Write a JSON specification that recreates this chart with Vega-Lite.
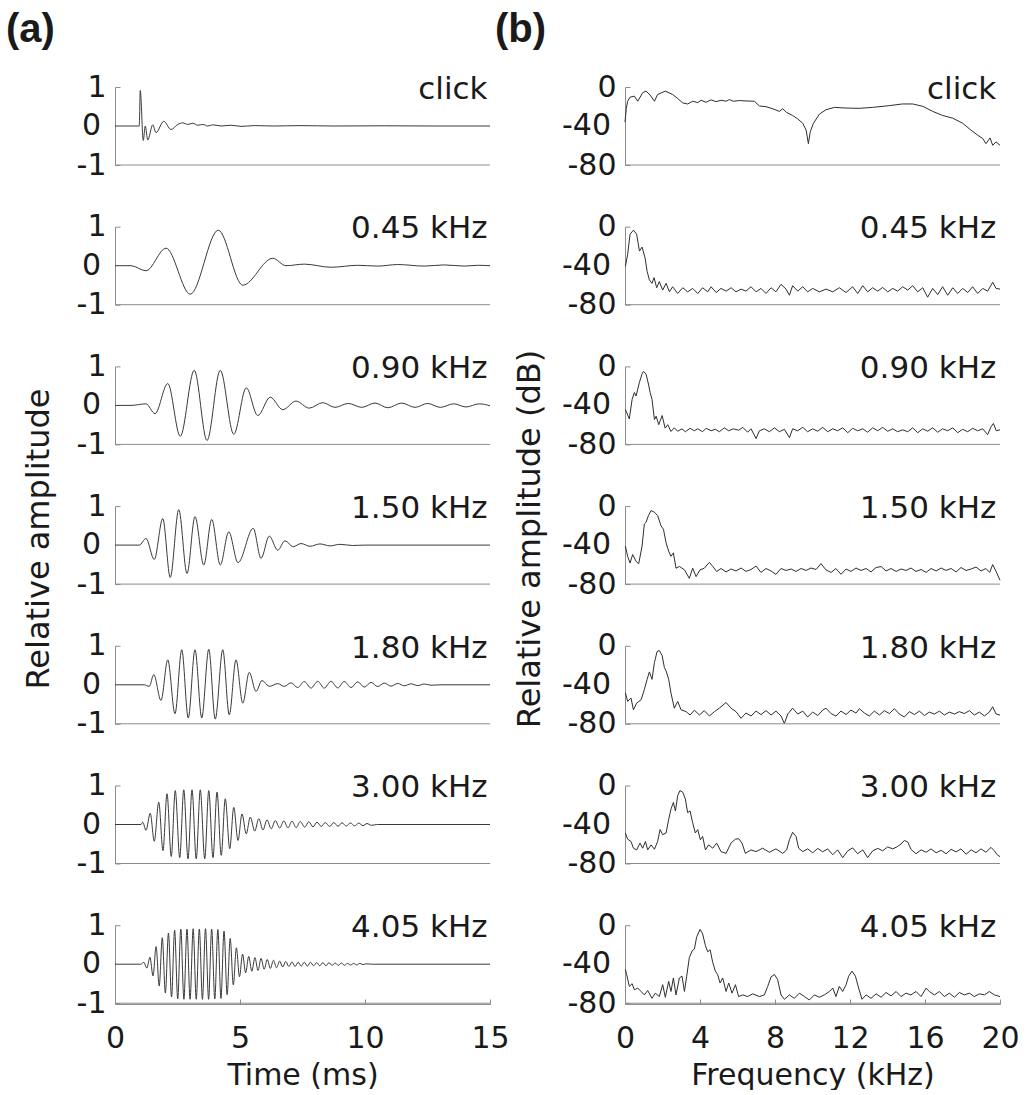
{
  "$schema": "https://vega.github.io/schema/vega-lite/v6.json",
  "background": "white",
  "padding": {"left": 5, "top": 10, "right": 0, "bottom": 0},
  "spacing": -16,
  "config": {
    "font": "DejaVu Sans",
    "view": {"stroke": null},
    "axis": {
      "grid": false,
      "domainColor": "#8c8c8c",
      "tickColor": "#8c8c8c",
      "tickSize": -5,
      "labelFont": "DejaVu Sans",
      "labelFontSize": 30,
      "labelColor": "#1a1a1a",
      "labelPadding": 14,
      "labelFlush": false,
      "labelOverlap": false,
      "titleFont": "DejaVu Sans",
      "titleFontSize": 30,
      "titleFontWeight": "normal",
      "titleColor": "#1a1a1a",
      "titlePadding": 7
    },
    "axisX": {"labelPadding": 24},
    "header": {
      "titleFont": "DejaVu Sans",
      "titleFontSize": 32,
      "titleFontWeight": "normal",
      "titleColor": "#1a1a1a",
      "labels": false
    },
    "title": {"font": "Liberation Sans", "fontSize": 40, "fontWeight": "bold", "color": "#1a1a1a", "anchor": "start", "offset": 22}
  },
  "datasets": {
    "wave": [
      {"s":"click","t":0,"a":0},{"s":"click","t":0.97,"a":0},{"s":"click","t":1.01,"a":0.91},{"s":"click","t":1.13,"a":-0.37},{"s":"click","t":1.21,"a":0.0},{"s":"click","t":1.31,"a":-0.36},{"s":"click","t":1.51,"a":0.03},{"s":"click","t":1.64,"a":-0.17},{"s":"click","t":1.95,"a":0.12},{"s":"click","t":2.24,"a":-0.09},{"s":"click","t":2.51,"a":0.04},{"s":"click","t":2.71,"a":0.08},{"s":"click","t":2.91,"a":0.04},{"s":"click","t":3.11,"a":0.07},{"s":"click","t":3.31,"a":0.02},{"s":"click","t":3.51,"a":0.04},{"s":"click","t":3.71,"a":0.0},{"s":"click","t":3.91,"a":0.03},{"s":"click","t":4.24,"a":0.0},{"s":"click","t":4.64,"a":0.02},{"s":"click","t":5.04,"a":-0.01},{"s":"click","t":5.57,"a":0.01},{"s":"click","t":6.37,"a":0},{"s":"click","t":7.44,"a":0.01},{"s":"click","t":8.77,"a":0},{"s":"click","t":10.77,"a":0.005},{"s":"click","t":12.77,"a":0},{"s":"click","t":15,"a":0},

      {"s":"0.45 kHz","t":0,"a":0},{"s":"0.45 kHz","t":0.64,"a":0},{"s":"0.45 kHz","t":1.24,"a":-0.13},{"s":"0.45 kHz","t":2.04,"a":0.45},{"s":"0.45 kHz","t":3.01,"a":-0.73},{"s":"0.45 kHz","t":4.13,"a":0.91},{"s":"0.45 kHz","t":5.11,"a":-0.5},{"s":"0.45 kHz","t":6.31,"a":0.19},{"s":"0.45 kHz","t":6.84,"a":0},{"s":"0.45 kHz","t":7.57,"a":0.04},{"s":"0.45 kHz","t":8.64,"a":-0.04},{"s":"0.45 kHz","t":9.71,"a":0.01},{"s":"0.45 kHz","t":10.51,"a":-0.01},{"s":"0.45 kHz","t":11.31,"a":0.03},{"s":"0.45 kHz","t":12.37,"a":-0.01},{"s":"0.45 kHz","t":13.17,"a":0.02},{"s":"0.45 kHz","t":13.97,"a":-0.01},{"s":"0.45 kHz","t":14.51,"a":0.01},{"s":"0.45 kHz","t":15,"a":0},

      {"s":"0.90 kHz","t":0,"a":0},{"s":"0.90 kHz","t":0.64,"a":0},{"s":"0.90 kHz","t":1.24,"a":0.04},{"s":"0.90 kHz","t":1.6,"a":-0.21},{"s":"0.90 kHz","t":2.11,"a":0.56},{"s":"0.90 kHz","t":2.61,"a":-0.79},{"s":"0.90 kHz","t":3.17,"a":0.9},{"s":"0.90 kHz","t":3.68,"a":-0.9},{"s":"0.90 kHz","t":4.21,"a":0.9},{"s":"0.90 kHz","t":4.75,"a":-0.74},{"s":"0.90 kHz","t":5.25,"a":0.45},{"s":"0.90 kHz","t":5.71,"a":-0.26},{"s":"0.90 kHz","t":6.21,"a":0.21},{"s":"0.90 kHz","t":6.71,"a":-0.11},{"s":"0.90 kHz","t":7.24,"a":0.11},{"s":"0.90 kHz","t":7.77,"a":-0.07},{"s":"0.90 kHz","t":8.31,"a":0.07},{"s":"0.90 kHz","t":8.8,"a":-0.05},{"s":"0.90 kHz","t":9.33,"a":0.05},{"s":"0.90 kHz","t":9.87,"a":-0.05},{"s":"0.90 kHz","t":10.4,"a":0.06},{"s":"0.90 kHz","t":10.91,"a":-0.06},{"s":"0.90 kHz","t":11.47,"a":0.06},{"s":"0.90 kHz","t":12.0,"a":-0.05},{"s":"0.90 kHz","t":12.51,"a":0.05},{"s":"0.90 kHz","t":13.01,"a":-0.05},{"s":"0.90 kHz","t":13.55,"a":0.04},{"s":"0.90 kHz","t":14.04,"a":-0.04},{"s":"0.90 kHz","t":14.57,"a":0.04},{"s":"0.90 kHz","t":15,"a":-0.01},

      {"s":"1.50 kHz","t":0,"a":0},{"s":"1.50 kHz","t":0.97,"a":0},{"s":"1.50 kHz","t":1.24,"a":0.17},{"s":"1.50 kHz","t":1.57,"a":-0.37},{"s":"1.50 kHz","t":1.91,"a":0.68},{"s":"1.50 kHz","t":2.21,"a":-0.83},{"s":"1.50 kHz","t":2.55,"a":0.91},{"s":"1.50 kHz","t":2.88,"a":-0.73},{"s":"1.50 kHz","t":3.2,"a":0.73},{"s":"1.50 kHz","t":3.55,"a":-0.51},{"s":"1.50 kHz","t":3.87,"a":0.66},{"s":"1.50 kHz","t":4.21,"a":-0.51},{"s":"1.50 kHz","t":4.55,"a":0.34},{"s":"1.50 kHz","t":4.92,"a":-0.45},{"s":"1.50 kHz","t":5.53,"a":0.43},{"s":"1.50 kHz","t":5.84,"a":-0.34},{"s":"1.50 kHz","t":6.17,"a":0.23},{"s":"1.50 kHz","t":6.51,"a":-0.13},{"s":"1.50 kHz","t":6.8,"a":0.11},{"s":"1.50 kHz","t":7.13,"a":-0.04},{"s":"1.50 kHz","t":7.44,"a":0.04},{"s":"1.50 kHz","t":7.8,"a":-0.03},{"s":"1.50 kHz","t":8.2,"a":0.03},{"s":"1.50 kHz","t":8.6,"a":-0.02},{"s":"1.50 kHz","t":9.0,"a":0.02},{"s":"1.50 kHz","t":9.5,"a":-0.01},{"s":"1.50 kHz","t":10,"a":0},{"s":"1.50 kHz","t":15,"a":0},

      {"s":"1.80 kHz","t":0,"a":0},{"s":"1.80 kHz","t":1.17,"a":0},{"s":"1.80 kHz","t":1.37,"a":-0.04},{"s":"1.80 kHz","t":1.55,"a":0.26},{"s":"1.80 kHz","t":1.84,"a":-0.4},{"s":"1.80 kHz","t":2.11,"a":0.64},{"s":"1.80 kHz","t":2.4,"a":-0.74},{"s":"1.80 kHz","t":2.67,"a":0.9},{"s":"1.80 kHz","t":2.93,"a":-0.85},{"s":"1.80 kHz","t":3.2,"a":0.9},{"s":"1.80 kHz","t":3.47,"a":-0.85},{"s":"1.80 kHz","t":3.75,"a":0.91},{"s":"1.80 kHz","t":4.01,"a":-0.88},{"s":"1.80 kHz","t":4.31,"a":0.9},{"s":"1.80 kHz","t":4.57,"a":-0.77},{"s":"1.80 kHz","t":4.84,"a":0.64},{"s":"1.80 kHz","t":5.11,"a":-0.47},{"s":"1.80 kHz","t":5.37,"a":0.32},{"s":"1.80 kHz","t":5.64,"a":-0.17},{"s":"1.80 kHz","t":5.88,"a":0.11},{"s":"1.80 kHz","t":6.17,"a":-0.04},{"s":"1.80 kHz","t":6.51,"a":0.03},{"s":"1.80 kHz","t":6.77,"a":-0.04},{"s":"1.80 kHz","t":7.04,"a":0.05},{"s":"1.80 kHz","t":7.31,"a":-0.07},{"s":"1.80 kHz","t":7.57,"a":0.085},{"s":"1.80 kHz","t":7.84,"a":-0.085},{"s":"1.80 kHz","t":8.11,"a":0.09},{"s":"1.80 kHz","t":8.37,"a":-0.085},{"s":"1.80 kHz","t":8.64,"a":0.09},{"s":"1.80 kHz","t":8.91,"a":-0.08},{"s":"1.80 kHz","t":9.17,"a":0.085},{"s":"1.80 kHz","t":9.44,"a":-0.07},{"s":"1.80 kHz","t":9.71,"a":0.075},{"s":"1.80 kHz","t":9.97,"a":-0.06},{"s":"1.80 kHz","t":10.24,"a":0.06},{"s":"1.80 kHz","t":10.51,"a":-0.045},{"s":"1.80 kHz","t":10.77,"a":0.045},{"s":"1.80 kHz","t":11.04,"a":-0.035},{"s":"1.80 kHz","t":11.31,"a":0.035},{"s":"1.80 kHz","t":11.57,"a":-0.025},{"s":"1.80 kHz","t":11.84,"a":0.025},{"s":"1.80 kHz","t":12.11,"a":-0.02},{"s":"1.80 kHz","t":12.37,"a":0.02},{"s":"1.80 kHz","t":12.64,"a":-0.01},{"s":"1.80 kHz","t":13.04,"a":0},{"s":"1.80 kHz","t":15,"a":0},

      {"s":"3.00 kHz","t":0,"a":0},{"s":"3.00 kHz","t":1.04,"a":0},{"s":"3.00 kHz","t":1.11,"a":0.06},{"s":"3.00 kHz","t":1.24,"a":-0.15},{"s":"3.00 kHz","t":1.41,"a":0.29},{"s":"3.00 kHz","t":1.57,"a":-0.43},{"s":"3.00 kHz","t":1.75,"a":0.57},{"s":"3.00 kHz","t":1.92,"a":-0.67},{"s":"3.00 kHz","t":2.08,"a":0.79},{"s":"3.00 kHz","t":2.25,"a":-0.82},{"s":"3.00 kHz","t":2.41,"a":0.87},{"s":"3.00 kHz","t":2.59,"a":-0.85},{"s":"3.00 kHz","t":2.75,"a":0.89},{"s":"3.00 kHz","t":2.92,"a":-0.88},{"s":"3.00 kHz","t":3.08,"a":0.89},{"s":"3.00 kHz","t":3.25,"a":-0.88},{"s":"3.00 kHz","t":3.41,"a":0.89},{"s":"3.00 kHz","t":3.59,"a":-0.88},{"s":"3.00 kHz","t":3.75,"a":0.87},{"s":"3.00 kHz","t":3.92,"a":-0.85},{"s":"3.00 kHz","t":4.08,"a":0.83},{"s":"3.00 kHz","t":4.25,"a":-0.79},{"s":"3.00 kHz","t":4.41,"a":0.66},{"s":"3.00 kHz","t":4.59,"a":-0.62},{"s":"3.00 kHz","t":4.75,"a":0.44},{"s":"3.00 kHz","t":4.92,"a":-0.41},{"s":"3.00 kHz","t":5.08,"a":0.27},{"s":"3.00 kHz","t":5.25,"a":-0.24},{"s":"3.00 kHz","t":5.41,"a":0.19},{"s":"3.00 kHz","t":5.59,"a":-0.17},{"s":"3.00 kHz","t":5.75,"a":0.15},{"s":"3.00 kHz","t":5.92,"a":-0.14},{"s":"3.00 kHz","t":6.08,"a":0.12},{"s":"3.00 kHz","t":6.25,"a":-0.11},{"s":"3.00 kHz","t":6.41,"a":0.1},{"s":"3.00 kHz","t":6.59,"a":-0.09},{"s":"3.00 kHz","t":6.75,"a":0.09},{"s":"3.00 kHz","t":6.92,"a":-0.085},{"s":"3.00 kHz","t":7.08,"a":0.085},{"s":"3.00 kHz","t":7.25,"a":-0.08},{"s":"3.00 kHz","t":7.41,"a":0.077},{"s":"3.00 kHz","t":7.59,"a":-0.07},{"s":"3.00 kHz","t":7.75,"a":0.07},{"s":"3.00 kHz","t":7.92,"a":-0.06},{"s":"3.00 kHz","t":8.08,"a":0.06},{"s":"3.00 kHz","t":8.25,"a":-0.05},{"s":"3.00 kHz","t":8.41,"a":0.05},{"s":"3.00 kHz","t":8.59,"a":-0.05},{"s":"3.00 kHz","t":8.75,"a":0.05},{"s":"3.00 kHz","t":8.92,"a":-0.045},{"s":"3.00 kHz","t":9.08,"a":0.045},{"s":"3.00 kHz","t":9.25,"a":-0.04},{"s":"3.00 kHz","t":9.41,"a":0.04},{"s":"3.00 kHz","t":9.59,"a":-0.035},{"s":"3.00 kHz","t":9.75,"a":0.035},{"s":"3.00 kHz","t":9.92,"a":-0.03},{"s":"3.00 kHz","t":10.08,"a":0.025},{"s":"3.00 kHz","t":10.25,"a":-0.02},{"s":"3.00 kHz","t":10.5,"a":0},{"s":"3.00 kHz","t":15,"a":0},

      {"s":"4.05 kHz","t":0,"a":0},{"s":"4.05 kHz","t":1.03,"a":0},{"s":"4.05 kHz","t":1.15,"a":0.05},{"s":"4.05 kHz","t":1.274,"a":-0.1},{"s":"4.05 kHz","t":1.397,"a":0.18},{"s":"4.05 kHz","t":1.521,"a":-0.3},{"s":"4.05 kHz","t":1.644,"a":0.45},{"s":"4.05 kHz","t":1.768,"a":-0.56},{"s":"4.05 kHz","t":1.891,"a":0.68},{"s":"4.05 kHz","t":2.015,"a":-0.74},{"s":"4.05 kHz","t":2.138,"a":0.8},{"s":"4.05 kHz","t":2.262,"a":-0.84},{"s":"4.05 kHz","t":2.385,"a":0.87},{"s":"4.05 kHz","t":2.509,"a":-0.89},{"s":"4.05 kHz","t":2.632,"a":0.9},{"s":"4.05 kHz","t":2.756,"a":-0.9},{"s":"4.05 kHz","t":2.879,"a":0.9},{"s":"4.05 kHz","t":3.003,"a":-0.9},{"s":"4.05 kHz","t":3.126,"a":0.91},{"s":"4.05 kHz","t":3.25,"a":-0.9},{"s":"4.05 kHz","t":3.373,"a":0.9},{"s":"4.05 kHz","t":3.497,"a":-0.9},{"s":"4.05 kHz","t":3.62,"a":0.91},{"s":"4.05 kHz","t":3.744,"a":-0.9},{"s":"4.05 kHz","t":3.867,"a":0.9},{"s":"4.05 kHz","t":3.991,"a":-0.89},{"s":"4.05 kHz","t":4.114,"a":0.89},{"s":"4.05 kHz","t":4.238,"a":-0.88},{"s":"4.05 kHz","t":4.361,"a":0.85},{"s":"4.05 kHz","t":4.485,"a":-0.78},{"s":"4.05 kHz","t":4.608,"a":0.66},{"s":"4.05 kHz","t":4.732,"a":-0.53},{"s":"4.05 kHz","t":4.855,"a":0.42},{"s":"4.05 kHz","t":4.979,"a":-0.32},{"s":"4.05 kHz","t":5.102,"a":0.26},{"s":"4.05 kHz","t":5.226,"a":-0.22},{"s":"4.05 kHz","t":5.349,"a":0.2},{"s":"4.05 kHz","t":5.473,"a":-0.18},{"s":"4.05 kHz","t":5.596,"a":0.17},{"s":"4.05 kHz","t":5.72,"a":-0.16},{"s":"4.05 kHz","t":5.843,"a":0.15},{"s":"4.05 kHz","t":5.967,"a":-0.13},{"s":"4.05 kHz","t":6.09,"a":0.12},{"s":"4.05 kHz","t":6.214,"a":-0.11},{"s":"4.05 kHz","t":6.337,"a":0.1},{"s":"4.05 kHz","t":6.461,"a":-0.09},{"s":"4.05 kHz","t":6.584,"a":0.08},{"s":"4.05 kHz","t":6.708,"a":-0.07},{"s":"4.05 kHz","t":6.831,"a":0.07},{"s":"4.05 kHz","t":6.955,"a":-0.06},{"s":"4.05 kHz","t":7.078,"a":0.06},{"s":"4.05 kHz","t":7.202,"a":-0.06},{"s":"4.05 kHz","t":7.325,"a":0.05},{"s":"4.05 kHz","t":7.449,"a":-0.05},{"s":"4.05 kHz","t":7.572,"a":0.05},{"s":"4.05 kHz","t":7.696,"a":-0.05},{"s":"4.05 kHz","t":7.819,"a":0.05},{"s":"4.05 kHz","t":7.943,"a":-0.04},{"s":"4.05 kHz","t":8.066,"a":0.04},{"s":"4.05 kHz","t":8.19,"a":-0.04},{"s":"4.05 kHz","t":8.313,"a":0.04},{"s":"4.05 kHz","t":8.437,"a":-0.04},{"s":"4.05 kHz","t":8.56,"a":0.04},{"s":"4.05 kHz","t":8.684,"a":-0.03},{"s":"4.05 kHz","t":8.807,"a":0.03},{"s":"4.05 kHz","t":8.931,"a":-0.03},{"s":"4.05 kHz","t":9.054,"a":0.03},{"s":"4.05 kHz","t":9.178,"a":-0.03},{"s":"4.05 kHz","t":9.301,"a":0.02},{"s":"4.05 kHz","t":9.425,"a":-0.02},{"s":"4.05 kHz","t":9.548,"a":0.02},{"s":"4.05 kHz","t":9.672,"a":-0.02},{"s":"4.05 kHz","t":9.795,"a":0.02},{"s":"4.05 kHz","t":9.919,"a":-0.01},{"s":"4.05 kHz","t":10.042,"a":0.01},{"s":"4.05 kHz","t":10.3,"a":0},{"s":"4.05 kHz","t":15,"a":0}
    ],
    "spec": [
      {"s":"click","f":0,"d":-36},{"s":"click","f":0.07,"d":-22},{"s":"click","f":0.14,"d":-14.6},{"s":"click","f":0.27,"d":-10.4},{"s":"click","f":0.5,"d":-9.4},{"s":"click","f":0.68,"d":-14.6},{"s":"click","f":0.94,"d":-5.9},{"s":"click","f":1.12,"d":-4.2},{"s":"click","f":1.34,"d":-8.3},{"s":"click","f":1.57,"d":-14.6},{"s":"click","f":1.74,"d":-7.7},{"s":"click","f":2.15,"d":-4.2},{"s":"click","f":2.54,"d":-7.7},{"s":"click","f":2.81,"d":-11.8},{"s":"click","f":3.08,"d":-16.3},{"s":"click","f":3.34,"d":-17.4},{"s":"click","f":3.61,"d":-14.6},{"s":"click","f":3.88,"d":-16},{"s":"click","f":4.06,"d":-13.6},{"s":"click","f":4.32,"d":-15.7},{"s":"click","f":4.59,"d":-13.2},{"s":"click","f":4.86,"d":-15},{"s":"click","f":5.12,"d":-13.6},{"s":"click","f":5.39,"d":-14.6},{"s":"click","f":5.57,"d":-12.9},{"s":"click","f":5.78,"d":-14.6},{"s":"click","f":6.1,"d":-13.9},{"s":"click","f":6.45,"d":-14.3},{"s":"click","f":6.9,"d":-14.6},{"s":"click","f":7.17,"d":-19.5},{"s":"click","f":7.52,"d":-20.2},{"s":"click","f":7.88,"d":-22.3},{"s":"click","f":8.23,"d":-25},{"s":"click","f":8.41,"d":-22.3},{"s":"click","f":8.62,"d":-26.1},{"s":"click","f":8.94,"d":-29.2},{"s":"click","f":9.21,"d":-32.7},{"s":"click","f":9.48,"d":-37.2},{"s":"click","f":9.66,"d":-44.2},{"s":"click","f":9.78,"d":-58.1},{"s":"click","f":9.88,"d":-45.9},{"s":"click","f":10.05,"d":-37.2},{"s":"click","f":10.37,"d":-27.8},{"s":"click","f":10.72,"d":-23.3},{"s":"click","f":11.17,"d":-20.9},{"s":"click","f":11.79,"d":-21.6},{"s":"click","f":12.5,"d":-21.9},{"s":"click","f":13.21,"d":-20.9},{"s":"click","f":14.1,"d":-19.1},{"s":"click","f":14.8,"d":-17.4},{"s":"click","f":15.34,"d":-17.4},{"s":"click","f":15.88,"d":-19.8},{"s":"click","f":16.41,"d":-25},{"s":"click","f":16.94,"d":-29.2},{"s":"click","f":17.48,"d":-32},{"s":"click","f":18.01,"d":-37.2},{"s":"click","f":18.45,"d":-44.2},{"s":"click","f":18.81,"d":-49.4},{"s":"click","f":19.08,"d":-52.9},{"s":"click","f":19.25,"d":-58.1},{"s":"click","f":19.47,"d":-52.2},{"s":"click","f":19.61,"d":-59.8},{"s":"click","f":19.79,"d":-56.3},{"s":"click","f":20,"d":-59.8},

      {"s":"0.45 kHz","f":0.02,"d":-40.7},{"s":"0.45 kHz","f":0.14,"d":-28.5},{"s":"0.45 kHz","f":0.27,"d":-7.7},{"s":"0.45 kHz","f":0.45,"d":-3.5},{"s":"0.45 kHz","f":0.62,"d":-7.7},{"s":"0.45 kHz","f":0.77,"d":-25},{"s":"0.45 kHz","f":0.91,"d":-20.9},{"s":"0.45 kHz","f":1.07,"d":-32},{"s":"0.45 kHz","f":1.18,"d":-45.9},{"s":"0.45 kHz","f":1.3,"d":-54.6},{"s":"0.45 kHz","f":1.44,"d":-58.1},{"s":"0.45 kHz","f":1.55,"d":-52.2},{"s":"0.45 kHz","f":1.69,"d":-62.6},{"s":"0.45 kHz","f":1.83,"d":-56.3},{"s":"0.45 kHz","f":2.01,"d":-65},{"s":"0.45 kHz","f":2.19,"d":-58.1},{"s":"0.45 kHz","f":2.37,"d":-66.8},{"s":"0.45 kHz","f":2.54,"d":-61.6},{"s":"0.45 kHz","f":2.81,"d":-68.5},{"s":"0.45 kHz","f":3.08,"d":-62.6},{"s":"0.45 kHz","f":3.34,"d":-66.8},{"s":"0.45 kHz","f":3.61,"d":-63.3},{"s":"0.45 kHz","f":3.88,"d":-68.5},{"s":"0.45 kHz","f":4.14,"d":-62.6},{"s":"0.45 kHz","f":4.41,"d":-66.8},{"s":"0.45 kHz","f":4.59,"d":-61.6},{"s":"0.45 kHz","f":4.86,"d":-67.5},{"s":"0.45 kHz","f":5.12,"d":-63.3},{"s":"0.45 kHz","f":5.39,"d":-66.1},{"s":"0.45 kHz","f":5.66,"d":-62.6},{"s":"0.45 kHz","f":5.92,"d":-66.8},{"s":"0.45 kHz","f":6.19,"d":-64},{"s":"0.45 kHz","f":6.45,"d":-66.1},{"s":"0.45 kHz","f":6.72,"d":-61.6},{"s":"0.45 kHz","f":6.99,"d":-66.8},{"s":"0.45 kHz","f":7.25,"d":-63.3},{"s":"0.45 kHz","f":7.52,"d":-68.5},{"s":"0.45 kHz","f":7.79,"d":-62.6},{"s":"0.45 kHz","f":8.05,"d":-66.8},{"s":"0.45 kHz","f":8.32,"d":-59.1},{"s":"0.45 kHz","f":8.59,"d":-64},{"s":"0.45 kHz","f":8.77,"d":-70.3},{"s":"0.45 kHz","f":8.94,"d":-60.5},{"s":"0.45 kHz","f":9.21,"d":-66.1},{"s":"0.45 kHz","f":9.48,"d":-61.6},{"s":"0.45 kHz","f":9.74,"d":-66.8},{"s":"0.45 kHz","f":10.01,"d":-63.3},{"s":"0.45 kHz","f":10.37,"d":-66.8},{"s":"0.45 kHz","f":10.72,"d":-64},{"s":"0.45 kHz","f":11.08,"d":-66.8},{"s":"0.45 kHz","f":11.43,"d":-62.6},{"s":"0.45 kHz","f":11.79,"d":-67.5},{"s":"0.45 kHz","f":12.14,"d":-61.6},{"s":"0.45 kHz","f":12.41,"d":-68.5},{"s":"0.45 kHz","f":12.68,"d":-60.5},{"s":"0.45 kHz","f":12.94,"d":-66.8},{"s":"0.45 kHz","f":13.21,"d":-62.6},{"s":"0.45 kHz","f":13.48,"d":-66.1},{"s":"0.45 kHz","f":13.74,"d":-62.3},{"s":"0.45 kHz","f":14.01,"d":-66.8},{"s":"0.45 kHz","f":14.28,"d":-63.3},{"s":"0.45 kHz","f":14.54,"d":-66.1},{"s":"0.45 kHz","f":14.81,"d":-61.6},{"s":"0.45 kHz","f":15.08,"d":-65},{"s":"0.45 kHz","f":15.34,"d":-60.5},{"s":"0.45 kHz","f":15.61,"d":-66.8},{"s":"0.45 kHz","f":15.88,"d":-62.6},{"s":"0.45 kHz","f":16.14,"d":-72.3},{"s":"0.45 kHz","f":16.41,"d":-63.3},{"s":"0.45 kHz","f":16.68,"d":-69.6},{"s":"0.45 kHz","f":16.94,"d":-61.6},{"s":"0.45 kHz","f":17.21,"d":-70.3},{"s":"0.45 kHz","f":17.48,"d":-62.6},{"s":"0.45 kHz","f":17.74,"d":-68.5},{"s":"0.45 kHz","f":18.01,"d":-63.3},{"s":"0.45 kHz","f":18.28,"d":-67.5},{"s":"0.45 kHz","f":18.54,"d":-61.6},{"s":"0.45 kHz","f":18.81,"d":-68.5},{"s":"0.45 kHz","f":19.08,"d":-63.3},{"s":"0.45 kHz","f":19.34,"d":-66.1},{"s":"0.45 kHz","f":19.61,"d":-57},{"s":"0.45 kHz","f":19.79,"d":-63.3},{"s":"0.45 kHz","f":20,"d":-64},

      {"s":"0.90 kHz","f":0.02,"d":-44.2},{"s":"0.90 kHz","f":0.23,"d":-53.9},{"s":"0.90 kHz","f":0.38,"d":-33.7},{"s":"0.90 kHz","f":0.5,"d":-26.8},{"s":"0.90 kHz","f":0.59,"d":-30.3},{"s":"0.90 kHz","f":0.77,"d":-16.3},{"s":"0.90 kHz","f":0.91,"d":-7.7},{"s":"0.90 kHz","f":0.98,"d":-5.2},{"s":"0.90 kHz","f":1.12,"d":-7.7},{"s":"0.90 kHz","f":1.25,"d":-18.1},{"s":"0.90 kHz","f":1.34,"d":-26.8},{"s":"0.90 kHz","f":1.44,"d":-33.7},{"s":"0.90 kHz","f":1.57,"d":-54.6},{"s":"0.90 kHz","f":1.66,"d":-51.1},{"s":"0.90 kHz","f":1.8,"d":-59.8},{"s":"0.90 kHz","f":1.98,"d":-50.4},{"s":"0.90 kHz","f":2.14,"d":-63.3},{"s":"0.90 kHz","f":2.28,"d":-59.8},{"s":"0.90 kHz","f":2.45,"d":-66.8},{"s":"0.90 kHz","f":2.63,"d":-63},{"s":"0.90 kHz","f":2.81,"d":-66.5},{"s":"0.90 kHz","f":3.04,"d":-64},{"s":"0.90 kHz","f":3.22,"d":-67},{"s":"0.90 kHz","f":3.47,"d":-63.5},{"s":"0.90 kHz","f":3.7,"d":-66},{"s":"0.90 kHz","f":3.88,"d":-64},{"s":"0.90 kHz","f":4.14,"d":-67},{"s":"0.90 kHz","f":4.32,"d":-63.5},{"s":"0.90 kHz","f":4.59,"d":-66},{"s":"0.90 kHz","f":4.82,"d":-64.5},{"s":"0.90 kHz","f":5.03,"d":-67},{"s":"0.90 kHz","f":5.3,"d":-63},{"s":"0.90 kHz","f":5.53,"d":-66},{"s":"0.90 kHz","f":5.78,"d":-64},{"s":"0.90 kHz","f":6.06,"d":-65.5},{"s":"0.90 kHz","f":6.28,"d":-62.5},{"s":"0.90 kHz","f":6.54,"d":-67.5},{"s":"0.90 kHz","f":6.72,"d":-64},{"s":"0.90 kHz","f":6.99,"d":-74},{"s":"0.90 kHz","f":7.17,"d":-66},{"s":"0.90 kHz","f":7.43,"d":-64},{"s":"0.90 kHz","f":7.7,"d":-67},{"s":"0.90 kHz","f":7.97,"d":-63},{"s":"0.90 kHz","f":8.23,"d":-67},{"s":"0.90 kHz","f":8.5,"d":-64.5},{"s":"0.90 kHz","f":8.77,"d":-73},{"s":"0.90 kHz","f":8.94,"d":-64},{"s":"0.90 kHz","f":9.21,"d":-66},{"s":"0.90 kHz","f":9.48,"d":-62.5},{"s":"0.90 kHz","f":9.74,"d":-67},{"s":"0.90 kHz","f":10.01,"d":-64},{"s":"0.90 kHz","f":10.28,"d":-66.5},{"s":"0.90 kHz","f":10.54,"d":-62.5},{"s":"0.90 kHz","f":10.81,"d":-67},{"s":"0.90 kHz","f":11.08,"d":-64},{"s":"0.90 kHz","f":11.34,"d":-66},{"s":"0.90 kHz","f":11.61,"d":-63},{"s":"0.90 kHz","f":11.88,"d":-68},{"s":"0.90 kHz","f":12.14,"d":-63.5},{"s":"0.90 kHz","f":12.41,"d":-66},{"s":"0.90 kHz","f":12.68,"d":-64},{"s":"0.90 kHz","f":12.94,"d":-67.5},{"s":"0.90 kHz","f":13.21,"d":-63},{"s":"0.90 kHz","f":13.48,"d":-66},{"s":"0.90 kHz","f":13.74,"d":-62.5},{"s":"0.90 kHz","f":14.01,"d":-66.5},{"s":"0.90 kHz","f":14.28,"d":-64},{"s":"0.90 kHz","f":14.54,"d":-67},{"s":"0.90 kHz","f":14.81,"d":-65},{"s":"0.90 kHz","f":15.08,"d":-67},{"s":"0.90 kHz","f":15.34,"d":-63},{"s":"0.90 kHz","f":15.61,"d":-68},{"s":"0.90 kHz","f":15.88,"d":-64},{"s":"0.90 kHz","f":16.14,"d":-66.5},{"s":"0.90 kHz","f":16.41,"d":-63},{"s":"0.90 kHz","f":16.68,"d":-67.5},{"s":"0.90 kHz","f":16.94,"d":-64},{"s":"0.90 kHz","f":17.21,"d":-66},{"s":"0.90 kHz","f":17.48,"d":-63},{"s":"0.90 kHz","f":17.74,"d":-68},{"s":"0.90 kHz","f":18.01,"d":-64.5},{"s":"0.90 kHz","f":18.28,"d":-67},{"s":"0.90 kHz","f":18.54,"d":-63.5},{"s":"0.90 kHz","f":18.81,"d":-66},{"s":"0.90 kHz","f":19.08,"d":-64},{"s":"0.90 kHz","f":19.34,"d":-70},{"s":"0.90 kHz","f":19.52,"d":-62},{"s":"0.90 kHz","f":19.65,"d":-58.5},{"s":"0.90 kHz","f":19.8,"d":-66},{"s":"0.90 kHz","f":20,"d":-65},

      {"s":"1.50 kHz","f":0.02,"d":-41},{"s":"1.50 kHz","f":0.14,"d":-51.5},{"s":"1.50 kHz","f":0.27,"d":-58.4},{"s":"1.50 kHz","f":0.41,"d":-49.7},{"s":"1.50 kHz","f":0.59,"d":-56.7},{"s":"1.50 kHz","f":0.73,"d":-59.1},{"s":"1.50 kHz","f":0.91,"d":-41},{"s":"1.50 kHz","f":1.03,"d":-18.4},{"s":"1.50 kHz","f":1.12,"d":-16.7},{"s":"1.50 kHz","f":1.25,"d":-9.7},{"s":"1.50 kHz","f":1.39,"d":-4.5},{"s":"1.50 kHz","f":1.57,"d":-6.3},{"s":"1.50 kHz","f":1.74,"d":-9.7},{"s":"1.50 kHz","f":1.92,"d":-20.2},{"s":"1.50 kHz","f":2.05,"d":-23.7},{"s":"1.50 kHz","f":2.19,"d":-37.6},{"s":"1.50 kHz","f":2.33,"d":-46.3},{"s":"1.50 kHz","f":2.45,"d":-51.5},{"s":"1.50 kHz","f":2.58,"d":-48},{"s":"1.50 kHz","f":2.72,"d":-63.7},{"s":"1.50 kHz","f":2.9,"d":-61.9},{"s":"1.50 kHz","f":3.17,"d":-65.4},{"s":"1.50 kHz","f":3.43,"d":-74.1},{"s":"1.50 kHz","f":3.61,"d":-63.7},{"s":"1.50 kHz","f":3.79,"d":-72.3},{"s":"1.50 kHz","f":4.0,"d":-65.4},{"s":"1.50 kHz","f":4.23,"d":-63.7},{"s":"1.50 kHz","f":4.5,"d":-57.7},{"s":"1.50 kHz","f":4.68,"d":-61.9},{"s":"1.50 kHz","f":4.89,"d":-67.1},{"s":"1.50 kHz","f":5.12,"d":-64},{"s":"1.50 kHz","f":5.39,"d":-67.5},{"s":"1.50 kHz","f":5.65,"d":-64.5},{"s":"1.50 kHz","f":5.92,"d":-66.5},{"s":"1.50 kHz","f":6.19,"d":-63.5},{"s":"1.50 kHz","f":6.45,"d":-67},{"s":"1.50 kHz","f":6.72,"d":-65},{"s":"1.50 kHz","f":6.99,"d":-61.5},{"s":"1.50 kHz","f":7.25,"d":-68},{"s":"1.50 kHz","f":7.52,"d":-64},{"s":"1.50 kHz","f":7.79,"d":-66.5},{"s":"1.50 kHz","f":8.05,"d":-70},{"s":"1.50 kHz","f":8.32,"d":-64},{"s":"1.50 kHz","f":8.59,"d":-66},{"s":"1.50 kHz","f":8.86,"d":-64.5},{"s":"1.50 kHz","f":9.12,"d":-67},{"s":"1.50 kHz","f":9.39,"d":-64},{"s":"1.50 kHz","f":9.66,"d":-66},{"s":"1.50 kHz","f":9.92,"d":-63.5},{"s":"1.50 kHz","f":10.19,"d":-65},{"s":"1.50 kHz","f":10.45,"d":-59},{"s":"1.50 kHz","f":10.72,"d":-65.5},{"s":"1.50 kHz","f":10.99,"d":-68},{"s":"1.50 kHz","f":11.25,"d":-64},{"s":"1.50 kHz","f":11.52,"d":-70},{"s":"1.50 kHz","f":11.79,"d":-64.5},{"s":"1.50 kHz","f":12.05,"d":-67},{"s":"1.50 kHz","f":12.32,"d":-63.5},{"s":"1.50 kHz","f":12.59,"d":-66},{"s":"1.50 kHz","f":12.86,"d":-64},{"s":"1.50 kHz","f":13.12,"d":-67.5},{"s":"1.50 kHz","f":13.39,"d":-63},{"s":"1.50 kHz","f":13.66,"d":-62},{"s":"1.50 kHz","f":13.92,"d":-66.5},{"s":"1.50 kHz","f":14.19,"d":-64},{"s":"1.50 kHz","f":14.46,"d":-67},{"s":"1.50 kHz","f":14.72,"d":-64.5},{"s":"1.50 kHz","f":14.99,"d":-66},{"s":"1.50 kHz","f":15.25,"d":-63.5},{"s":"1.50 kHz","f":15.52,"d":-67},{"s":"1.50 kHz","f":15.79,"d":-65},{"s":"1.50 kHz","f":16.06,"d":-68},{"s":"1.50 kHz","f":16.32,"d":-64},{"s":"1.50 kHz","f":16.59,"d":-66.5},{"s":"1.50 kHz","f":16.86,"d":-63.5},{"s":"1.50 kHz","f":17.12,"d":-66},{"s":"1.50 kHz","f":17.39,"d":-64},{"s":"1.50 kHz","f":17.66,"d":-67.5},{"s":"1.50 kHz","f":17.92,"d":-63},{"s":"1.50 kHz","f":18.19,"d":-66},{"s":"1.50 kHz","f":18.46,"d":-64.5},{"s":"1.50 kHz","f":18.72,"d":-62.5},{"s":"1.50 kHz","f":18.99,"d":-66.5},{"s":"1.50 kHz","f":19.25,"d":-64},{"s":"1.50 kHz","f":19.45,"d":-68},{"s":"1.50 kHz","f":19.61,"d":-60},{"s":"1.50 kHz","f":19.79,"d":-67},{"s":"1.50 kHz","f":20,"d":-76},

      {"s":"1.80 kHz","f":0.02,"d":-48.3},{"s":"1.80 kHz","f":0.14,"d":-57},{"s":"1.80 kHz","f":0.32,"d":-53.6},{"s":"1.80 kHz","f":0.45,"d":-65.7},{"s":"1.80 kHz","f":0.62,"d":-58.8},{"s":"1.80 kHz","f":0.86,"d":-55.3},{"s":"1.80 kHz","f":1.03,"d":-44.9},{"s":"1.80 kHz","f":1.18,"d":-34.4},{"s":"1.80 kHz","f":1.3,"d":-26.8},{"s":"1.80 kHz","f":1.44,"d":-34.4},{"s":"1.80 kHz","f":1.57,"d":-17},{"s":"1.80 kHz","f":1.71,"d":-5.9},{"s":"1.80 kHz","f":1.83,"d":-4.9},{"s":"1.80 kHz","f":1.98,"d":-10.1},{"s":"1.80 kHz","f":2.1,"d":-22.3},{"s":"1.80 kHz","f":2.19,"d":-25.7},{"s":"1.80 kHz","f":2.33,"d":-34.4},{"s":"1.80 kHz","f":2.45,"d":-48.3},{"s":"1.80 kHz","f":2.63,"d":-64},{"s":"1.80 kHz","f":2.81,"d":-57},{"s":"1.80 kHz","f":2.99,"d":-65.7},{"s":"1.80 kHz","f":3.26,"d":-67.5},{"s":"1.80 kHz","f":3.47,"d":-71},{"s":"1.80 kHz","f":3.7,"d":-66},{"s":"1.80 kHz","f":3.97,"d":-71},{"s":"1.80 kHz","f":4.23,"d":-66.5},{"s":"1.80 kHz","f":4.5,"d":-72},{"s":"1.80 kHz","f":4.77,"d":-67.5},{"s":"1.80 kHz","f":5.03,"d":-64},{"s":"1.80 kHz","f":5.39,"d":-58.1},{"s":"1.80 kHz","f":5.65,"d":-64},{"s":"1.80 kHz","f":5.92,"d":-67.5},{"s":"1.80 kHz","f":6.19,"d":-74.4},{"s":"1.80 kHz","f":6.45,"d":-69},{"s":"1.80 kHz","f":6.72,"d":-72},{"s":"1.80 kHz","f":6.99,"d":-67},{"s":"1.80 kHz","f":7.25,"d":-70.5},{"s":"1.80 kHz","f":7.52,"d":-66.5},{"s":"1.80 kHz","f":7.79,"d":-71},{"s":"1.80 kHz","f":8.05,"d":-67},{"s":"1.80 kHz","f":8.32,"d":-72},{"s":"1.80 kHz","f":8.5,"d":-79.7},{"s":"1.80 kHz","f":8.68,"d":-70},{"s":"1.80 kHz","f":8.94,"d":-64},{"s":"1.80 kHz","f":9.21,"d":-70},{"s":"1.80 kHz","f":9.48,"d":-67},{"s":"1.80 kHz","f":9.74,"d":-73},{"s":"1.80 kHz","f":10.01,"d":-68},{"s":"1.80 kHz","f":10.28,"d":-71.5},{"s":"1.80 kHz","f":10.54,"d":-66},{"s":"1.80 kHz","f":10.72,"d":-64},{"s":"1.80 kHz","f":10.99,"d":-69.5},{"s":"1.80 kHz","f":11.25,"d":-72},{"s":"1.80 kHz","f":11.52,"d":-67},{"s":"1.80 kHz","f":11.79,"d":-70.5},{"s":"1.80 kHz","f":12.05,"d":-66},{"s":"1.80 kHz","f":12.32,"d":-69},{"s":"1.80 kHz","f":12.5,"d":-64.5},{"s":"1.80 kHz","f":12.77,"d":-69},{"s":"1.80 kHz","f":13.03,"d":-72},{"s":"1.80 kHz","f":13.3,"d":-67},{"s":"1.80 kHz","f":13.57,"d":-71},{"s":"1.80 kHz","f":13.83,"d":-66.5},{"s":"1.80 kHz","f":14.1,"d":-69.5},{"s":"1.80 kHz","f":14.37,"d":-64.5},{"s":"1.80 kHz","f":14.63,"d":-70},{"s":"1.80 kHz","f":14.9,"d":-73},{"s":"1.80 kHz","f":15.17,"d":-67.5},{"s":"1.80 kHz","f":15.43,"d":-70.5},{"s":"1.80 kHz","f":15.7,"d":-67},{"s":"1.80 kHz","f":15.97,"d":-71.5},{"s":"1.80 kHz","f":16.23,"d":-68},{"s":"1.80 kHz","f":16.5,"d":-70},{"s":"1.80 kHz","f":16.77,"d":-67},{"s":"1.80 kHz","f":17.03,"d":-71},{"s":"1.80 kHz","f":17.3,"d":-68},{"s":"1.80 kHz","f":17.57,"d":-70},{"s":"1.80 kHz","f":17.83,"d":-67.5},{"s":"1.80 kHz","f":18.1,"d":-69.5},{"s":"1.80 kHz","f":18.37,"d":-66.5},{"s":"1.80 kHz","f":18.63,"d":-71},{"s":"1.80 kHz","f":18.9,"d":-68},{"s":"1.80 kHz","f":19.17,"d":-72},{"s":"1.80 kHz","f":19.43,"d":-68},{"s":"1.80 kHz","f":19.61,"d":-62.5},{"s":"1.80 kHz","f":19.79,"d":-70},{"s":"1.80 kHz","f":20,"d":-71},

      {"s":"3.00 kHz","f":0.02,"d":-48.7},{"s":"3.00 kHz","f":0.14,"d":-55},{"s":"3.00 kHz","f":0.32,"d":-57.4},{"s":"3.00 kHz","f":0.45,"d":-64.3},{"s":"3.00 kHz","f":0.62,"d":-66.1},{"s":"3.00 kHz","f":0.8,"d":-59.1},{"s":"3.00 kHz","f":0.94,"d":-64.3},{"s":"3.00 kHz","f":1.09,"d":-57.4},{"s":"3.00 kHz","f":1.21,"d":-66.1},{"s":"3.00 kHz","f":1.39,"d":-60.9},{"s":"3.00 kHz","f":1.57,"d":-65.4},{"s":"3.00 kHz","f":1.74,"d":-57.4},{"s":"3.00 kHz","f":1.87,"d":-45.2},{"s":"3.00 kHz","f":2.01,"d":-50.4},{"s":"3.00 kHz","f":2.19,"d":-48.7},{"s":"3.00 kHz","f":2.33,"d":-34.8},{"s":"3.00 kHz","f":2.45,"d":-24.3},{"s":"3.00 kHz","f":2.58,"d":-17.4},{"s":"3.00 kHz","f":2.69,"d":-26.1},{"s":"3.00 kHz","f":2.81,"d":-10.4},{"s":"3.00 kHz","f":2.93,"d":-5.2},{"s":"3.00 kHz","f":3.08,"d":-6.9},{"s":"3.00 kHz","f":3.22,"d":-13.9},{"s":"3.00 kHz","f":3.34,"d":-27.8},{"s":"3.00 kHz","f":3.47,"d":-26.1},{"s":"3.00 kHz","f":3.61,"d":-38.3},{"s":"3.00 kHz","f":3.75,"d":-48.7},{"s":"3.00 kHz","f":3.88,"d":-45.2},{"s":"3.00 kHz","f":4.02,"d":-55.7},{"s":"3.00 kHz","f":4.14,"d":-52.2},{"s":"3.00 kHz","f":4.29,"d":-66.1},{"s":"3.00 kHz","f":4.46,"d":-60.9},{"s":"3.00 kHz","f":4.68,"d":-64.3},{"s":"3.00 kHz","f":4.89,"d":-59.1},{"s":"3.00 kHz","f":5.12,"d":-67.8},{"s":"3.00 kHz","f":5.39,"d":-69.6},{"s":"3.00 kHz","f":5.65,"d":-59.1},{"s":"3.00 kHz","f":5.89,"d":-55},{"s":"3.00 kHz","f":6.06,"d":-54.6},{"s":"3.00 kHz","f":6.24,"d":-59.1},{"s":"3.00 kHz","f":6.42,"d":-69.6},{"s":"3.00 kHz","f":6.72,"d":-66.1},{"s":"3.00 kHz","f":6.99,"d":-67.8},{"s":"3.00 kHz","f":7.34,"d":-64.3},{"s":"3.00 kHz","f":7.7,"d":-68.5},{"s":"3.00 kHz","f":8.05,"d":-65},{"s":"3.00 kHz","f":8.41,"d":-69.6},{"s":"3.00 kHz","f":8.62,"d":-66.1},{"s":"3.00 kHz","f":8.77,"d":-55.7},{"s":"3.00 kHz","f":8.94,"d":-48},{"s":"3.00 kHz","f":9.12,"d":-52.2},{"s":"3.00 kHz","f":9.26,"d":-64.3},{"s":"3.00 kHz","f":9.48,"d":-67.8},{"s":"3.00 kHz","f":9.74,"d":-65},{"s":"3.00 kHz","f":10.01,"d":-69},{"s":"3.00 kHz","f":10.28,"d":-64.5},{"s":"3.00 kHz","f":10.54,"d":-68},{"s":"3.00 kHz","f":10.81,"d":-65},{"s":"3.00 kHz","f":11.08,"d":-71},{"s":"3.00 kHz","f":11.34,"d":-66},{"s":"3.00 kHz","f":11.61,"d":-74},{"s":"3.00 kHz","f":11.88,"d":-67},{"s":"3.00 kHz","f":12.14,"d":-64},{"s":"3.00 kHz","f":12.41,"d":-70},{"s":"3.00 kHz","f":12.68,"d":-66},{"s":"3.00 kHz","f":12.94,"d":-74},{"s":"3.00 kHz","f":13.21,"d":-67},{"s":"3.00 kHz","f":13.48,"d":-64.5},{"s":"3.00 kHz","f":13.74,"d":-67},{"s":"3.00 kHz","f":14.01,"d":-63},{"s":"3.00 kHz","f":14.28,"d":-65},{"s":"3.00 kHz","f":14.54,"d":-62.5},{"s":"3.00 kHz","f":14.72,"d":-60},{"s":"3.00 kHz","f":14.9,"d":-56.3},{"s":"3.00 kHz","f":15.08,"d":-58},{"s":"3.00 kHz","f":15.25,"d":-65.4},{"s":"3.00 kHz","f":15.52,"d":-70},{"s":"3.00 kHz","f":15.79,"d":-66},{"s":"3.00 kHz","f":16.06,"d":-68.5},{"s":"3.00 kHz","f":16.32,"d":-65},{"s":"3.00 kHz","f":16.59,"d":-69},{"s":"3.00 kHz","f":16.86,"d":-66.5},{"s":"3.00 kHz","f":17.12,"d":-70},{"s":"3.00 kHz","f":17.39,"d":-65.5},{"s":"3.00 kHz","f":17.66,"d":-68},{"s":"3.00 kHz","f":17.92,"d":-65},{"s":"3.00 kHz","f":18.19,"d":-70.5},{"s":"3.00 kHz","f":18.46,"d":-66},{"s":"3.00 kHz","f":18.72,"d":-69},{"s":"3.00 kHz","f":18.99,"d":-65},{"s":"3.00 kHz","f":19.25,"d":-68.5},{"s":"3.00 kHz","f":19.52,"d":-63.5},{"s":"3.00 kHz","f":19.7,"d":-67},{"s":"3.00 kHz","f":19.85,"d":-71},{"s":"3.00 kHz","f":20,"d":-73},

      {"s":"4.05 kHz","f":0.02,"d":-45.4},{"s":"4.05 kHz","f":0.09,"d":-50.6},{"s":"4.05 kHz","f":0.23,"d":-62.8},{"s":"4.05 kHz","f":0.38,"d":-60},{"s":"4.05 kHz","f":0.5,"d":-66.3},{"s":"4.05 kHz","f":0.68,"d":-64.5},{"s":"4.05 kHz","f":0.86,"d":-68},{"s":"4.05 kHz","f":1.03,"d":-71.5},{"s":"4.05 kHz","f":1.21,"d":-67},{"s":"4.05 kHz","f":1.44,"d":-75},{"s":"4.05 kHz","f":1.62,"d":-69.7},{"s":"4.05 kHz","f":1.83,"d":-73.2},{"s":"4.05 kHz","f":2.01,"d":-61},{"s":"4.05 kHz","f":2.15,"d":-73.9},{"s":"4.05 kHz","f":2.33,"d":-57.6},{"s":"4.05 kHz","f":2.45,"d":-68},{"s":"4.05 kHz","f":2.58,"d":-54.1},{"s":"4.05 kHz","f":2.72,"d":-71.5},{"s":"4.05 kHz","f":2.9,"d":-54.1},{"s":"4.05 kHz","f":3.04,"d":-52.3},{"s":"4.05 kHz","f":3.17,"d":-68},{"s":"4.05 kHz","f":3.29,"d":-52.3},{"s":"4.05 kHz","f":3.43,"d":-33.2},{"s":"4.05 kHz","f":3.58,"d":-26.3},{"s":"4.05 kHz","f":3.7,"d":-24.5},{"s":"4.05 kHz","f":3.82,"d":-12.3},{"s":"4.05 kHz","f":4.0,"d":-4.3},{"s":"4.05 kHz","f":4.14,"d":-8.9},{"s":"4.05 kHz","f":4.29,"d":-21},{"s":"4.05 kHz","f":4.41,"d":-27.3},{"s":"4.05 kHz","f":4.54,"d":-25.2},{"s":"4.05 kHz","f":4.68,"d":-38.4},{"s":"4.05 kHz","f":4.82,"d":-47.1},{"s":"4.05 kHz","f":4.94,"d":-50.6},{"s":"4.05 kHz","f":5.07,"d":-59.3},{"s":"4.05 kHz","f":5.21,"d":-54.1},{"s":"4.05 kHz","f":5.39,"d":-68},{"s":"4.05 kHz","f":5.53,"d":-59.3},{"s":"4.05 kHz","f":5.71,"d":-69.7},{"s":"4.05 kHz","f":5.89,"d":-61},{"s":"4.05 kHz","f":6.06,"d":-73.2},{"s":"4.05 kHz","f":6.28,"d":-71.5},{"s":"4.05 kHz","f":6.54,"d":-73.2},{"s":"4.05 kHz","f":6.81,"d":-70.4},{"s":"4.05 kHz","f":7.17,"d":-73.2},{"s":"4.05 kHz","f":7.43,"d":-71.5},{"s":"4.05 kHz","f":7.61,"d":-62.8},{"s":"4.05 kHz","f":7.79,"d":-53},{"s":"4.05 kHz","f":7.97,"d":-50.6},{"s":"4.05 kHz","f":8.14,"d":-55.8},{"s":"4.05 kHz","f":8.32,"d":-71.5},{"s":"4.05 kHz","f":8.5,"d":-76},{"s":"4.05 kHz","f":8.77,"d":-71.5},{"s":"4.05 kHz","f":9.03,"d":-75},{"s":"4.05 kHz","f":9.3,"d":-69.7},{"s":"4.05 kHz","f":9.57,"d":-73.2},{"s":"4.05 kHz","f":9.83,"d":-76.7},{"s":"4.05 kHz","f":10.1,"d":-71.5},{"s":"4.05 kHz","f":10.37,"d":-73.9},{"s":"4.05 kHz","f":10.63,"d":-71.5},{"s":"4.05 kHz","f":10.9,"d":-68},{"s":"4.05 kHz","f":11.08,"d":-64.5},{"s":"4.05 kHz","f":11.25,"d":-73.2},{"s":"4.05 kHz","f":11.43,"d":-62.8},{"s":"4.05 kHz","f":11.61,"d":-68},{"s":"4.05 kHz","f":11.79,"d":-61},{"s":"4.05 kHz","f":11.93,"d":-52.3},{"s":"4.05 kHz","f":12.11,"d":-47.1},{"s":"4.05 kHz","f":12.29,"d":-52.3},{"s":"4.05 kHz","f":12.46,"d":-64.5},{"s":"4.05 kHz","f":12.64,"d":-76},{"s":"4.05 kHz","f":12.86,"d":-71.5},{"s":"4.05 kHz","f":13.12,"d":-75},{"s":"4.05 kHz","f":13.39,"d":-70.4},{"s":"4.05 kHz","f":13.66,"d":-73.9},{"s":"4.05 kHz","f":13.92,"d":-69},{"s":"4.05 kHz","f":14.19,"d":-72.5},{"s":"4.05 kHz","f":14.46,"d":-68},{"s":"4.05 kHz","f":14.72,"d":-73.2},{"s":"4.05 kHz","f":14.99,"d":-69.7},{"s":"4.05 kHz","f":15.25,"d":-71.5},{"s":"4.05 kHz","f":15.52,"d":-68},{"s":"4.05 kHz","f":15.79,"d":-73.2},{"s":"4.05 kHz","f":16.06,"d":-64.5},{"s":"4.05 kHz","f":16.23,"d":-68},{"s":"4.05 kHz","f":16.5,"d":-71.5},{"s":"4.05 kHz","f":16.77,"d":-68},{"s":"4.05 kHz","f":17.03,"d":-73.2},{"s":"4.05 kHz","f":17.3,"d":-69.7},{"s":"4.05 kHz","f":17.57,"d":-73.9},{"s":"4.05 kHz","f":17.83,"d":-69},{"s":"4.05 kHz","f":18.1,"d":-71.5},{"s":"4.05 kHz","f":18.37,"d":-69.7},{"s":"4.05 kHz","f":18.63,"d":-73.2},{"s":"4.05 kHz","f":18.9,"d":-70.4},{"s":"4.05 kHz","f":19.17,"d":-71.5},{"s":"4.05 kHz","f":19.43,"d":-68},{"s":"4.05 kHz","f":19.7,"d":-71.5},{"s":"4.05 kHz","f":20,"d":-73.2}
    ]
  },
  "hconcat": [
    {
      "data": {"name": "wave"},
      "title": {"text": "(a)", "dx": -17},
      "bounds": "flush",
      "facet": {
        "row": {
          "field": "s",
          "type": "nominal",
          "sort": ["click", "0.45 kHz", "0.90 kHz", "1.50 kHz", "1.80 kHz", "3.00 kHz", "4.05 kHz"],
          "title": "Relative amplitude",
          "header": {"labels": false}
        }
      },
      "spacing": {"row": 61.7},
      "spec": {
        "width": 375,
        "height": 78,
        "layer": [
          {
            "mark": {"type": "line", "interpolate": "monotone", "color": "#3a3a3a", "strokeWidth": 1},
            "encoding": {
              "x": {"field": "t", "type": "quantitative", "scale": {"domain": [0, 15], "nice": false}, "axis": {"values": [0, 5, 10, 15], "title": "Time (ms)"}},
              "y": {"field": "a", "type": "quantitative", "scale": {"domain": [-1, 1], "nice": false}, "axis": {"values": [-1, 0, 1], "labelExpr": "datum.value == 0 ? '' : '' + datum.value", "labelOverlap": false, "title": null}}
            }
          },
          {
            "transform": [{"aggregate": [{"op": "count", "as": "n"}], "groupby": ["s"]}],
            "layer": [
              {"mark": {"type": "rule", "color": "#8c8c8c", "strokeWidth": 1}, "encoding": {"y": {"datum": -1}}},
              {"mark": {"type": "text", "align": "right", "baseline": "alphabetic", "fontSize": 31, "color": "#1a1a1a"}, "encoding": {"x": {"datum": 14.9}, "y": {"datum": 0.7}, "text": {"field": "s"}}},
              {"mark": {"type": "text", "align": "right", "baseline": "middle", "dx": -14, "fontSize": 30, "color": "#1a1a1a"}, "encoding": {"x": {"datum": 0}, "y": {"datum": 0}, "text": {"value": "0"}}}
            ]
          }
        ]
      }
    },
    {
      "data": {"name": "spec"},
      "title": {"text": "(b)", "dx": -19},
      "bounds": "flush",
      "facet": {
        "row": {
          "field": "s",
          "type": "nominal",
          "sort": ["click", "0.45 kHz", "0.90 kHz", "1.50 kHz", "1.80 kHz", "3.00 kHz", "4.05 kHz"],
          "title": "Relative amplitude (dB)",
          "header": {"labels": false}
        }
      },
      "spacing": {"row": 61.7},
      "spec": {
        "width": 375,
        "height": 78,
        "layer": [
          {
            "mark": {"type": "line", "color": "#2e2e2e", "strokeWidth": 1},
            "encoding": {
              "x": {"field": "f", "type": "quantitative", "scale": {"domain": [0, 20], "nice": false}, "axis": {"values": [0, 4, 8, 12, 16, 20], "title": "Frequency (kHz)"}},
              "y": {"field": "d", "type": "quantitative", "scale": {"domain": [-80, 0], "nice": false}, "axis": {"values": [-80, -40, 0], "labelExpr": "datum.value == -40 ? '' : '' + datum.value", "labelOverlap": false, "title": null}}
            }
          },
          {
            "transform": [{"aggregate": [{"op": "count", "as": "n"}], "groupby": ["s"]}],
            "layer": [
              {"mark": {"type": "rule", "color": "#8c8c8c", "strokeWidth": 1}, "encoding": {"y": {"datum": -80}}},
              {"mark": {"type": "text", "align": "right", "baseline": "alphabetic", "fontSize": 31, "color": "#1a1a1a"}, "encoding": {"x": {"datum": 19.8}, "y": {"datum": -12}, "text": {"field": "s"}}},
              {"mark": {"type": "text", "align": "right", "baseline": "middle", "dx": -14, "fontSize": 30, "color": "#1a1a1a"}, "encoding": {"x": {"datum": 0}, "y": {"datum": -40}, "text": {"value": "-40"}}}
            ]
          }
        ]
      }
    }
  ]
}
